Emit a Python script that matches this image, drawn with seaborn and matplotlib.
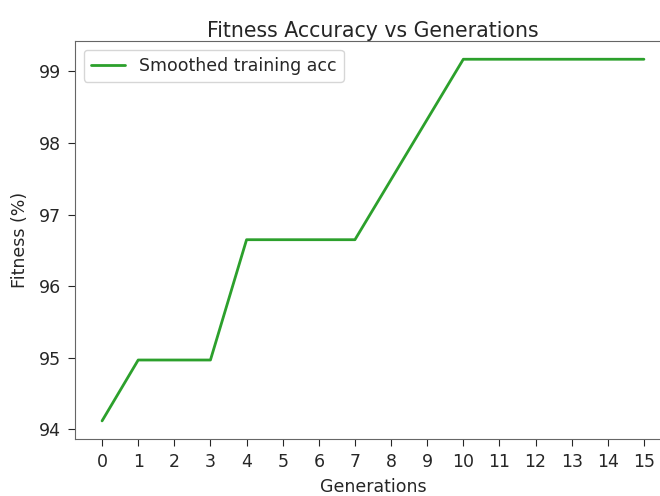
import pandas as pd
import matplotlib
matplotlib.use('Agg')
import matplotlib.pyplot as plt
import seaborn as sns

# values
generations = list(range(16))
fitness = [94.12, 94.97, 94.97, 94.97, 96.65, 96.65, 96.65, 96.65,
           97.49, 98.33, 99.17, 99.17, 99.17, 99.17, 99.17, 99.17]
series_label = 'Smoothed training acc'

df = pd.DataFrame({'Generations': generations, 'Fitness': fitness})

sns.set_style('ticks')
plt.rcParams['font.family'] = ['DejaVu Sans']

fig, ax = plt.subplots(figsize=(6.6, 4.96), dpi=100)
fig.subplots_adjust(left=0.1136, right=1.0167, bottom=0.115, top=0.917)

sns.lineplot(data=df, x='Generations', y='Fitness', color='#2ca02c',
             linewidth=2, label=series_label, ax=ax)

ax.set_xticks(generations)
ax.set_title('Fitness Accuracy vs Generations', fontsize=14.8, color='0.15', pad=1)
ax.set_xlabel('Generations', fontsize=12.5, color='0.15', labelpad=5)
ax.set_ylabel('Fitness (%)', fontsize=12.5, color='0.15', labelpad=7)
ax.tick_params(labelsize=12.5, colors='0.15', length=5, pad=5)
for s in ax.spines.values():
    s.set_color('0.4')
ax.spines['right'].set_visible(False)
ax.legend(loc='upper left', fontsize=12.5)

plt.savefig('out.png', dpi=100)
plt.close()
